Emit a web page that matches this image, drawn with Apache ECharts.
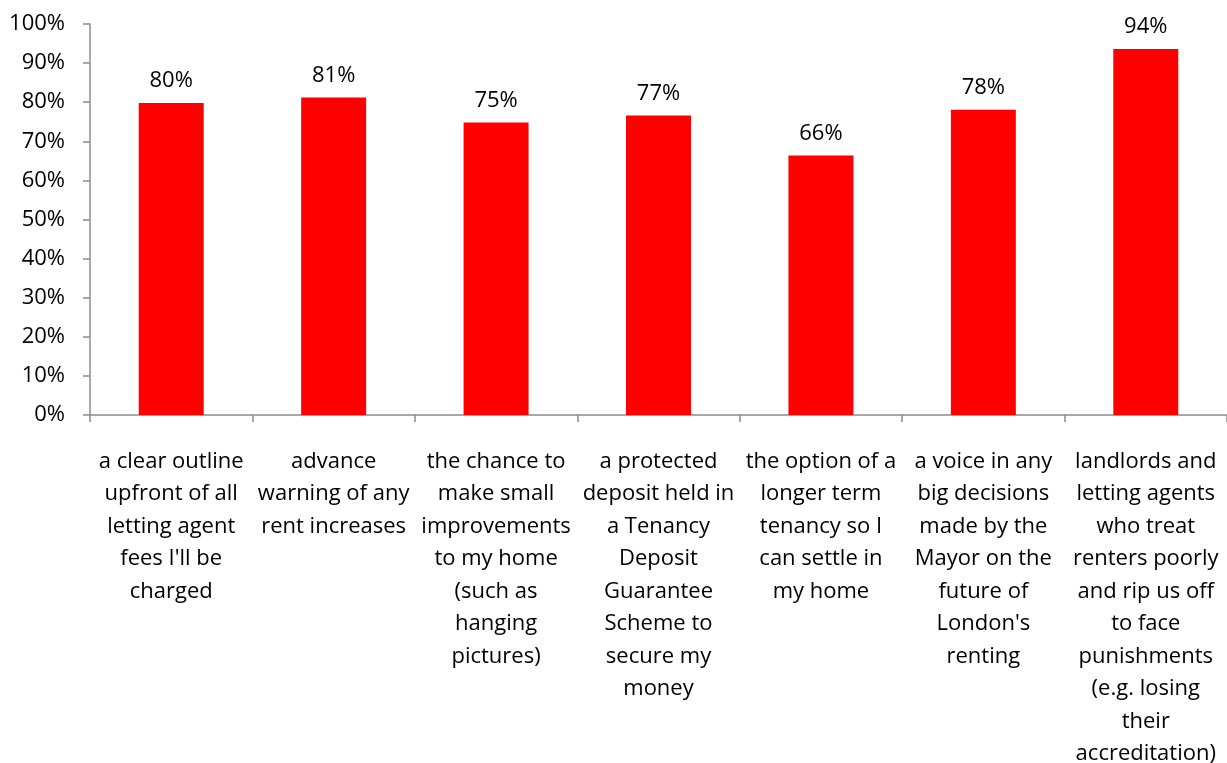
<!DOCTYPE html>
<html><head><meta charset="utf-8">
<script src="https://cdn.jsdelivr.net/npm/echarts@6/dist/echarts.min.js"></script>
<style>html,body{margin:0;padding:0;background:#fff}#c{width:1227px;height:763px}</style>
</head><body><div id="c"></div>
<script>
const categories = [
  "a clear outline\nupfront of all\nletting agent\nfees I'll be\ncharged",
  "advance\nwarning of any\nrent increases",
  "the chance to\nmake small\nimprovements\nto my home\n(such as\nhanging\npictures)",
  "a protected\ndeposit held in\na Tenancy\nDeposit\nGuarantee\nScheme to\nsecure my\nmoney",
  "the option of a\nlonger term\ntenancy so I\ncan settle in\nmy home",
  "a voice in any\nbig decisions\nmade by the\nMayor on the\nfuture of\nLondon's\nrenting",
  "landlords and\nletting agents\nwho treat\nrenters poorly\nand rip us off\nto face\npunishments\n(e.g. losing\ntheir\naccreditation)"
];
const values = [79.8, 81.2, 74.8, 76.6, 66.4, 78.1, 93.6];
const yTicks = [0, 10, 20, 30, 40, 50, 60, 70, 80, 90, 100];

const FONT = "Open Sans";
const FS = 22;
const chart = echarts.init(document.getElementById('c'));
chart.setOption({
  animation: false,
  textStyle: { fontFamily: FONT },
  grid: { left: 90, right: 0, top: 24, bottom: 348, containLabel: false, outerBoundsMode: 'none' },
  xAxis: {
    type: 'category',
    data: categories,
    axisLine: { lineStyle: { color: '#8c8c8c', width: 1.5 } },
    axisTick: { show: true, length: 7, alignWithLabel: false, lineStyle: { color: '#8c8c8c', width: 1.5 } },
    axisLabel: { interval: 0, color: '#000', fontSize: FS, fontFamily: FONT, lineHeight: 32.5, margin: 30, align: 'center', verticalAlign: 'top' }
  },
  yAxis: {
    type: 'value',
    min: yTicks[0], max: yTicks[yTicks.length - 1], interval: 10,
    splitLine: { show: false },
    axisLine: { show: true, lineStyle: { color: '#8c8c8c', width: 1.5 } },
    axisTick: { show: true, length: 7, lineStyle: { color: '#8c8c8c', width: 1.5 } },
    axisLabel: { color: '#000', fontSize: FS, fontFamily: FONT, margin: 25, formatter: v => v + '%' }
  },
  series: [{
    type: 'bar',
    data: values,
    barWidth: '40%',
    itemStyle: { color: '#ff0000' },
    label: { show: true, position: 'top', distance: 11, color: '#000', fontSize: FS, fontFamily: FONT, formatter: p => Math.round(p.value) + '%' }
  }]
});
</script></body></html>
